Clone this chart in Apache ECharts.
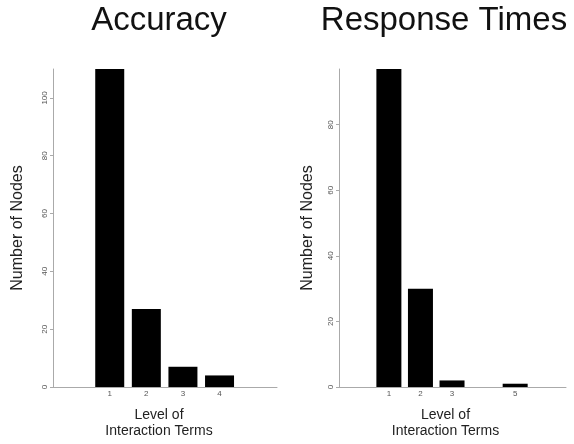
<!DOCTYPE html>
<html>
<head>
<meta charset="utf-8">
<script src="https://cdn.jsdelivr.net/npm/echarts@6/dist/echarts.min.js"></script>
<style>html,body{margin:0;padding:0;background:#fff}#c{width:574px;height:444px}</style>
</head>
<body>
<div id="c"></div>
<script>
// Data
var accLevels = [1, 2, 3, 4];
var accCounts = [110, 27, 7, 4];
var rtLevels = [1, 2, 3, 5];
var rtCounts = [97, 30, 2, 1];
var accYTicks = [0, 20, 40, 60, 80, 100];
var rtYTicks = [0, 20, 40, 60, 80];
var titles = ['Accuracy', 'Response Times'];
var yName = 'Number of Nodes';
var xName = 'Level of\nInteraction Terms';

var FONT = '"Liberation Sans", Arial, sans-serif';
var axisColor = '#aaaaaa';
var labelColor = '#555555';

function pairs(xs, ys) { return xs.map(function (x, i) { return [x, ys[i]]; }); }

function xAxisFor(grid, min, max, levels, namePad) {
  return {
    gridIndex: grid, type: 'value', min: min, max: max,
    name: xName, nameLocation: 'middle', nameGap: 20,
    nameTextStyle: { fontFamily: FONT, fontSize: 14, color: '#222', lineHeight: 16, padding: [0, namePad, 0, 0] },
    axisLine: { show: true, onZero: false, lineStyle: { color: axisColor, width: 1 } },
    axisTick: { show: false },
    splitLine: { show: false },
    axisLabel: { customValues: levels, fontFamily: FONT, fontSize: 8, color: labelColor, margin: 3 }
  };
}
function yAxisFor(grid, max, ticks, gap) {
  return {
    gridIndex: grid, type: 'value', min: 0, max: max,
    name: yName, nameLocation: 'middle', nameGap: gap, nameRotate: 90,
    nameTextStyle: { fontFamily: FONT, fontSize: 16, color: '#222' },
    axisLine: { show: true, onZero: false, lineStyle: { color: axisColor, width: 1 } },
    axisTick: { show: true, customValues: ticks, length: 3, lineStyle: { color: axisColor } },
    splitLine: { show: false },
    axisLabel: { customValues: ticks, rotate: 90, fontFamily: FONT, fontSize: 8, color: labelColor, margin: 4 }
  };
}

var chart = echarts.init(document.getElementById('c'), null, { renderer: 'canvas' });
chart.setOption({
  animation: false,
  backgroundColor: '#ffffff',
  grid: [
    { left: 53, right: 297, top: 69, bottom: 55 },
    { left: 339, right: 8, top: 69, bottom: 55 }
  ],
  graphic: [
    { type: 'text', style: { text: titles[0], x: 159, y: 21, textAlign: 'center', textVerticalAlign: 'middle', font: '33px ' + FONT, fill: '#111' } },
    { type: 'text', style: { text: titles[1], x: 444, y: 21, textAlign: 'center', textVerticalAlign: 'middle', font: '33px ' + FONT, fill: '#111' } }
  ],
  xAxis: [
    xAxisFor(0, -0.55, 5.57, accLevels, 12),
    xAxisFor(1, -0.58, 6.61, rtLevels, 14)
  ],
  yAxis: [
    yAxisFor(0, 110, accYTicks, 27),
    yAxisFor(1, 97, rtYTicks, 23)
  ],
  series: [
    { type: 'bar', xAxisIndex: 0, yAxisIndex: 0, data: pairs(accLevels, accCounts), barWidth: 29, itemStyle: { color: '#000' } },
    { type: 'bar', xAxisIndex: 1, yAxisIndex: 1, data: pairs(rtLevels, rtCounts), barWidth: 25, itemStyle: { color: '#000' } }
  ]
});
</script>
</body>
</html>
